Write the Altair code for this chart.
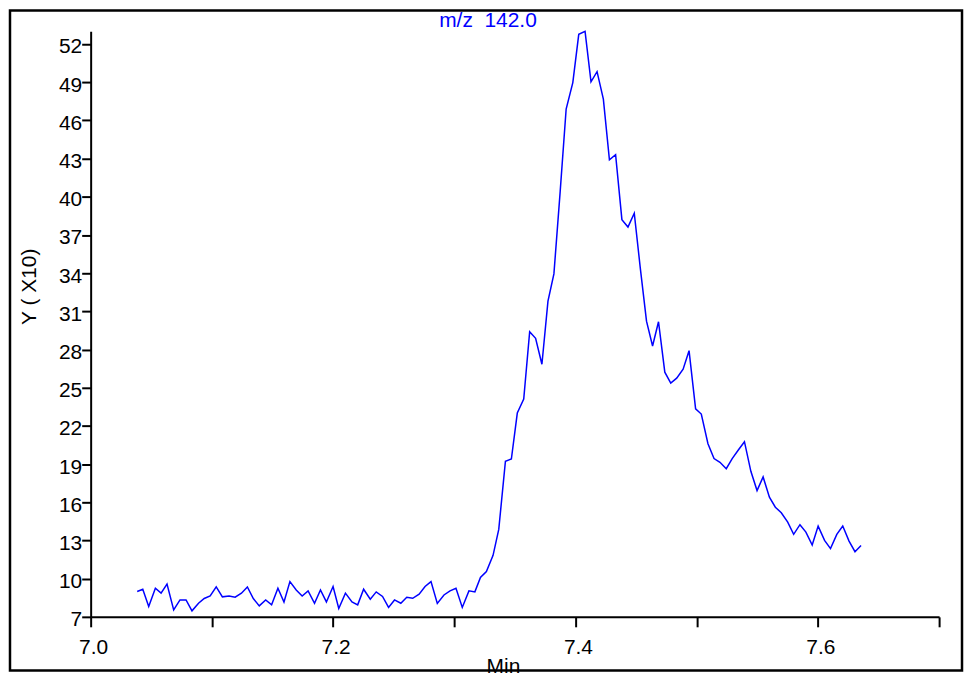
import altair as alt
import pandas as pd

# ---- text ----
title_text = "m/z\u00a0\u00a0142.0"
x_title = "Min"
y_title = "Y ( X10)"

# ---- axis ticks ----
x_ticks = [7.0, 7.1, 7.2, 7.3, 7.4, 7.5, 7.6, 7.7]
y_ticks = [7, 10, 13, 16, 19, 22, 25, 28, 31, 34, 37, 40, 43, 46, 49, 52]

# ---- series (retention time in min, intensity in units of 10) ----
times = [
    7.0384, 7.0430, 7.0479, 7.0534, 7.0581, 7.0630, 7.0685, 7.0737, 7.0787, 7.0836,
    7.0890, 7.0937, 7.0986, 7.1036, 7.1087, 7.1142, 7.1192, 7.1244, 7.1293, 7.1342,
    7.1391, 7.1444, 7.1493, 7.1545, 7.1595, 7.1644, 7.1696, 7.1745, 7.1794, 7.1847,
    7.1896, 7.1945, 7.2000, 7.2047, 7.2102, 7.2156, 7.2203, 7.2252, 7.2307, 7.2356,
    7.2408, 7.2458, 7.2507, 7.2559, 7.2608, 7.2657, 7.2710, 7.2759, 7.2808, 7.2860,
    7.2915, 7.2965, 7.3014, 7.3066, 7.3121, 7.3170, 7.3216, 7.3265, 7.3320, 7.3367,
    7.3422, 7.3471, 7.3520, 7.3573, 7.3622, 7.3671, 7.3723, 7.3773, 7.3822, 7.3874,
    7.3923, 7.3978, 7.4027, 7.4079, 7.4128, 7.4178, 7.4230, 7.4280, 7.4331, 7.4383,
    7.4433, 7.4485, 7.4534, 7.4586, 7.4636, 7.4685, 7.4737, 7.4786, 7.4835, 7.4888,
    7.4937, 7.4991, 7.5038, 7.5093, 7.5143, 7.5192, 7.5244, 7.5293, 7.5345, 7.5394,
    7.5447, 7.5498, 7.5548, 7.5600, 7.5649, 7.5698, 7.5751, 7.5800, 7.5852, 7.5901,
    7.5953, 7.6002, 7.6055, 7.6104, 7.6156, 7.6205, 7.6257, 7.6306, 7.6356,
]
values = [
    8.99, 9.17, 7.81, 9.25, 8.86, 9.58, 7.55, 8.33, 8.33, 7.47,
    8.07, 8.44, 8.64, 9.35, 8.57, 8.64, 8.54, 8.86, 9.35, 8.44,
    7.86, 8.33, 7.94, 9.25, 8.17, 9.77, 9.11, 8.64, 9.04, 8.07,
    9.11, 8.17, 9.38, 7.66, 8.86, 8.17, 7.94, 9.17, 8.39, 8.96,
    8.60, 7.74, 8.33, 8.07, 8.54, 8.46, 8.78, 9.38, 9.77, 8.05,
    8.72, 9.04, 9.25, 7.74, 9.04, 8.96, 10.09, 10.56, 11.83, 13.87,
    19.22, 19.40, 23.01, 24.10, 29.40, 28.88, 26.84, 31.80, 33.94, 40.44,
    46.89, 48.97, 52.76, 53.00, 49.03, 49.83, 47.67, 42.90, 43.31, 38.20,
    37.62, 38.71, 34.46, 30.23, 28.28, 30.18, 26.22, 25.36, 25.75, 26.45,
    27.91, 23.34, 22.93, 20.60, 19.43, 19.14, 18.64, 19.43, 20.13, 20.76,
    18.43, 16.92, 17.99, 16.40, 15.61, 15.18, 14.44, 13.48, 14.24, 13.66,
    12.64, 14.13, 13.01, 12.36, 13.48, 14.13, 12.95, 12.12, 12.61,
]

FONT = "Liberation Sans"
BLUE = "#0000FF"

df = pd.DataFrame({"t": times, "v": values})

x_axis = alt.Axis(
    values=x_ticks,
    title=x_title,
    labelExpr="round(datum.value * 10) % 2 == 0 ? format(datum.value, '.1f') : ''",
    labelFlush=False,
    labelOverlap=False,
    labelFont=FONT,
    labelFontSize=21,
    labelColor="black",
    labelPadding=10,
    labelOffset=2.5,
    tickSize=10,
    tickWidth=2,
    tickColor="black",
    domainColor="black",
    domainWidth=2,
    grid=False,
    titleFont=FONT,
    titleFontSize=21,
    titleFontWeight="normal",
    titleColor="black",
    titleX=414,
    titleY=56,
    titleAlign="center",
    titleBaseline="alphabetic",
)

y_axis = alt.Axis(
    values=y_ticks,
    title=y_title,
    format="d",
    labelOverlap=False,
    labelFont=FONT,
    labelFontSize=21,
    labelColor="black",
    labelPadding=0,
    labelOffset=3,
    labelBaseline="middle",
    tickSize=9,
    tickWidth=2,
    tickColor="black",
    domainColor="black",
    domainWidth=2,
    grid=False,
    titleFont=FONT,
    titleFontSize=21,
    titleFontWeight="normal",
    titleColor="black",
    titleAngle=270,
    titleX=-55,
    titleY=256,
    titleAlign="center",
    titleBaseline="alphabetic",
)

line = alt.Chart(df).mark_line(color=BLUE, strokeWidth=1.5, clip=False).encode(
    x=alt.X("t:Q", scale=alt.Scale(domain=[7.0, 7.7], nice=False, zero=False), axis=x_axis),
    y=alt.Y("v:Q", scale=alt.Scale(domain=[7, 53], nice=False, zero=False), axis=y_axis),
)

title_mark = alt.Chart(pd.DataFrame({"label": [title_text]})).mark_text(
    font=FONT, fontSize=21, color=BLUE, align="left", baseline="alphabetic"
).encode(text="label:N", x=alt.value(350), y=alt.value(-4))

frame = alt.Chart(pd.DataFrame({"k": [0]})).mark_rect(
    filled=False, stroke="black", strokeWidth=2.5, clip=False
).encode(x=alt.value(-81), x2=alt.value(875), y=alt.value(-21), y2=alt.value(642))

chart = (
    alt.layer(frame, line, title_mark)
    .properties(
        width=852,
        height=588,
        autosize=alt.AutoSizeParams(type="none"),
        padding={"left": 83, "top": 22, "right": 25, "bottom": 55},
        background="white",
    )
    .configure_view(stroke=None)
)

chart.save("out.html", embed_options={"renderer": "svg", "actions": False})
